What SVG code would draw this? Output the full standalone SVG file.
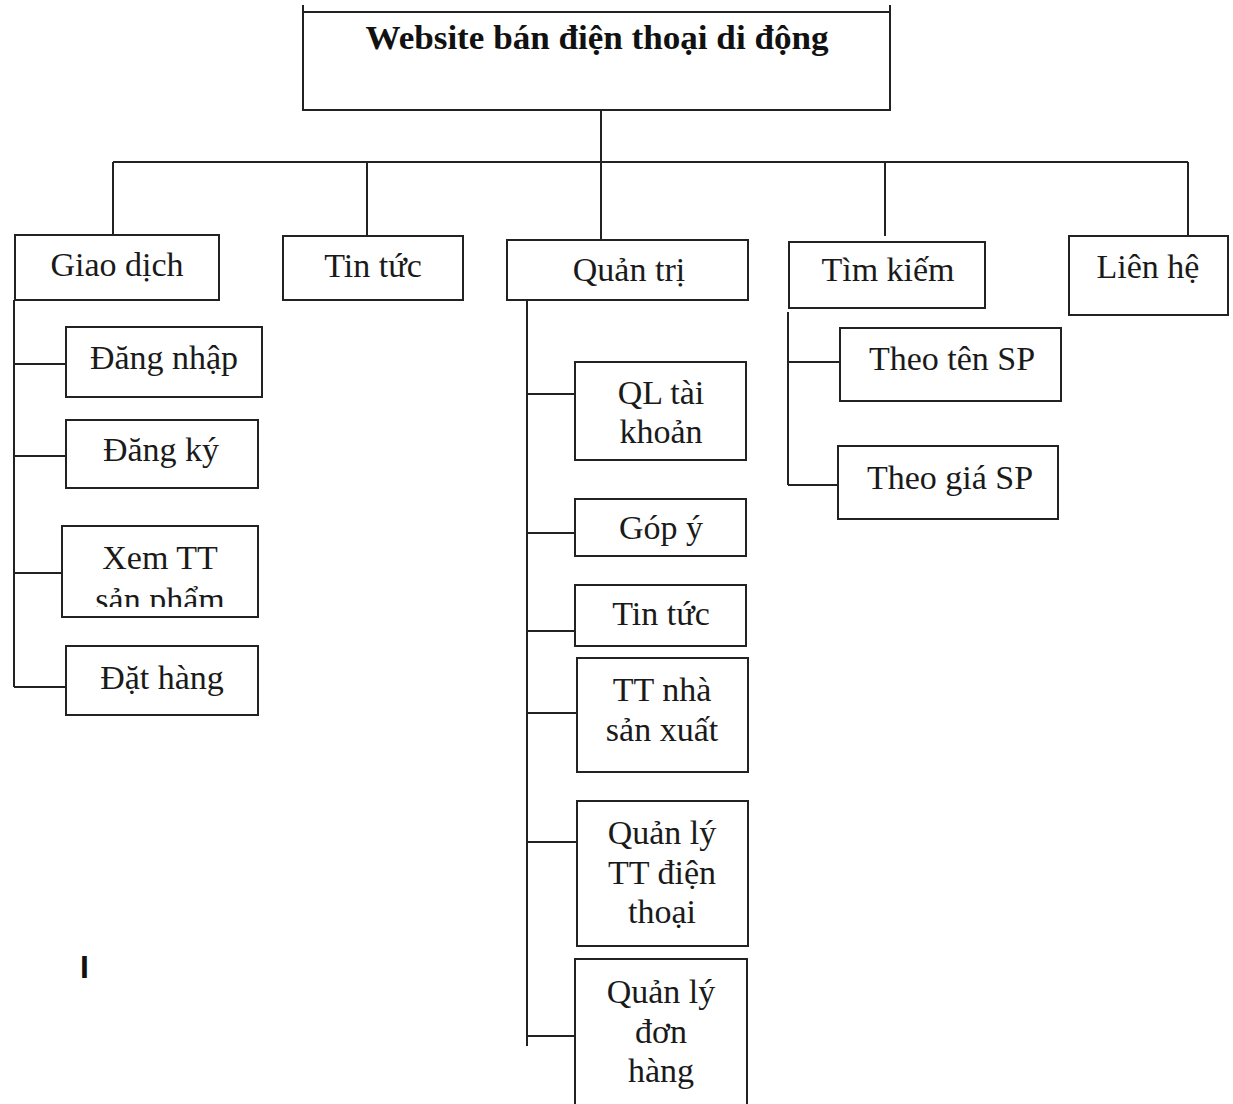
<svg xmlns="http://www.w3.org/2000/svg" width="1233" height="1104" viewBox="0 0 1233 1104">
<style>
.box{fill:#fff;stroke:#222;stroke-width:2}
.ln{stroke:#222;stroke-width:2;fill:none}
.t{font-family:"Liberation Serif","Times New Roman",serif;font-size:34px;fill:#1a1a1a;text-anchor:middle}
.title{font-family:"Liberation Serif","Times New Roman",serif;font-size:33px;font-weight:bold;fill:#111;text-anchor:middle}
</style>
<defs>
<clipPath id="clipXem"><rect x="63" y="527" width="194" height="80"/></clipPath>
</defs>
<rect width="1233" height="1104" fill="#fff"/>
<g id="connectors" class="ln">
<path d="M601 110V162M113 162H1188M113 162V235M367 162V236M601 162V240M885 162V236M1188 162V235"/>
<path d="M14 300V687M14 364H66M14 456H66M14 573H62M14 687H66"/>
<path d="M527 300V1046M527 394H575M527 533H575M527 631H575M527 713H577M527 842H577M527 1036H575"/>
<path d="M788 312V485M788 362H840M788 485H838"/>
</g>
<g id="root"><path class="ln" d="M303 5V110H890V5M303 12H890"/><text class="title" x="597" y="49" textLength="463" lengthAdjust="spacingAndGlyphs">Website bán điện thoại di động</text></g>
<g id="giaodich"><rect class="box" x="15" y="235" width="204" height="65"/><text class="t" x="117" y="276">Giao dịch</text></g>
<g id="tintuc"><rect class="box" x="283" y="236" width="180" height="64"/><text class="t" x="373" y="277">Tin tức</text></g>
<g id="quantri"><rect class="box" x="507" y="240" width="241" height="60"/><text class="t" x="629" y="281">Quản trị</text></g>
<g id="timkiem"><rect class="box" x="789" y="242" width="196" height="66"/><text class="t" x="888" y="281">Tìm kiếm</text></g>
<g id="lienhe"><rect class="box" x="1069" y="236" width="159" height="79"/><text class="t" x="1148" y="278">Liên hệ</text></g>
<g id="dangnhap"><rect class="box" x="66" y="327" width="196" height="70"/><text class="t" x="164" y="369">Đăng nhập</text></g>
<g id="dangky"><rect class="box" x="66" y="420" width="192" height="68"/><text class="t" x="161" y="461">Đăng ký</text></g>
<g id="xemtt"><rect class="box" x="62" y="526" width="196" height="91"/><g clip-path="url(#clipXem)"><text class="t" x="160" y="569">Xem TT</text><text class="t" x="160" y="611">sản phẩm</text></g></g>
<g id="dathang"><rect class="box" x="66" y="646" width="192" height="69"/><text class="t" x="162" y="689">Đặt hàng</text></g>
<g id="qltaikhoan"><rect class="box" x="575" y="362" width="171" height="98"/><text class="t" x="661" y="404">QL tài</text><text class="t" x="661" y="443">khoản</text></g>
<g id="gopy"><rect class="box" x="575" y="499" width="171" height="57"/><text class="t" x="661" y="539">Góp ý</text></g>
<g id="tintuc2"><rect class="box" x="575" y="585" width="171" height="61"/><text class="t" x="661" y="625">Tin tức</text></g>
<g id="ttnsx"><rect class="box" x="577" y="658" width="171" height="114"/><text class="t" x="662" y="701">TT nhà</text><text class="t" x="662" y="741">sản xuất</text></g>
<g id="qlttdt"><rect class="box" x="577" y="801" width="171" height="145"/><text class="t" x="662" y="844">Quản lý</text><text class="t" x="662" y="884">TT điện</text><text class="t" x="662" y="923">thoại</text></g>
<g id="qldh"><rect class="box" x="575" y="959" width="172" height="160"/><text class="t" x="661" y="1003">Quản lý</text><text class="t" x="661" y="1043">đơn</text><text class="t" x="661" y="1082">hàng</text></g>
<g id="theoten"><rect class="box" x="840" y="328" width="221" height="73"/><text class="t" x="952" y="370">Theo tên SP</text></g>
<g id="theogia"><rect class="box" x="838" y="446" width="220" height="73"/><text class="t" x="950" y="489">Theo giá SP</text></g>
<text x="80" y="978" font-family="Liberation Sans, Arial, sans-serif" font-size="32" font-weight="bold" fill="#111">I</text>
</svg>
